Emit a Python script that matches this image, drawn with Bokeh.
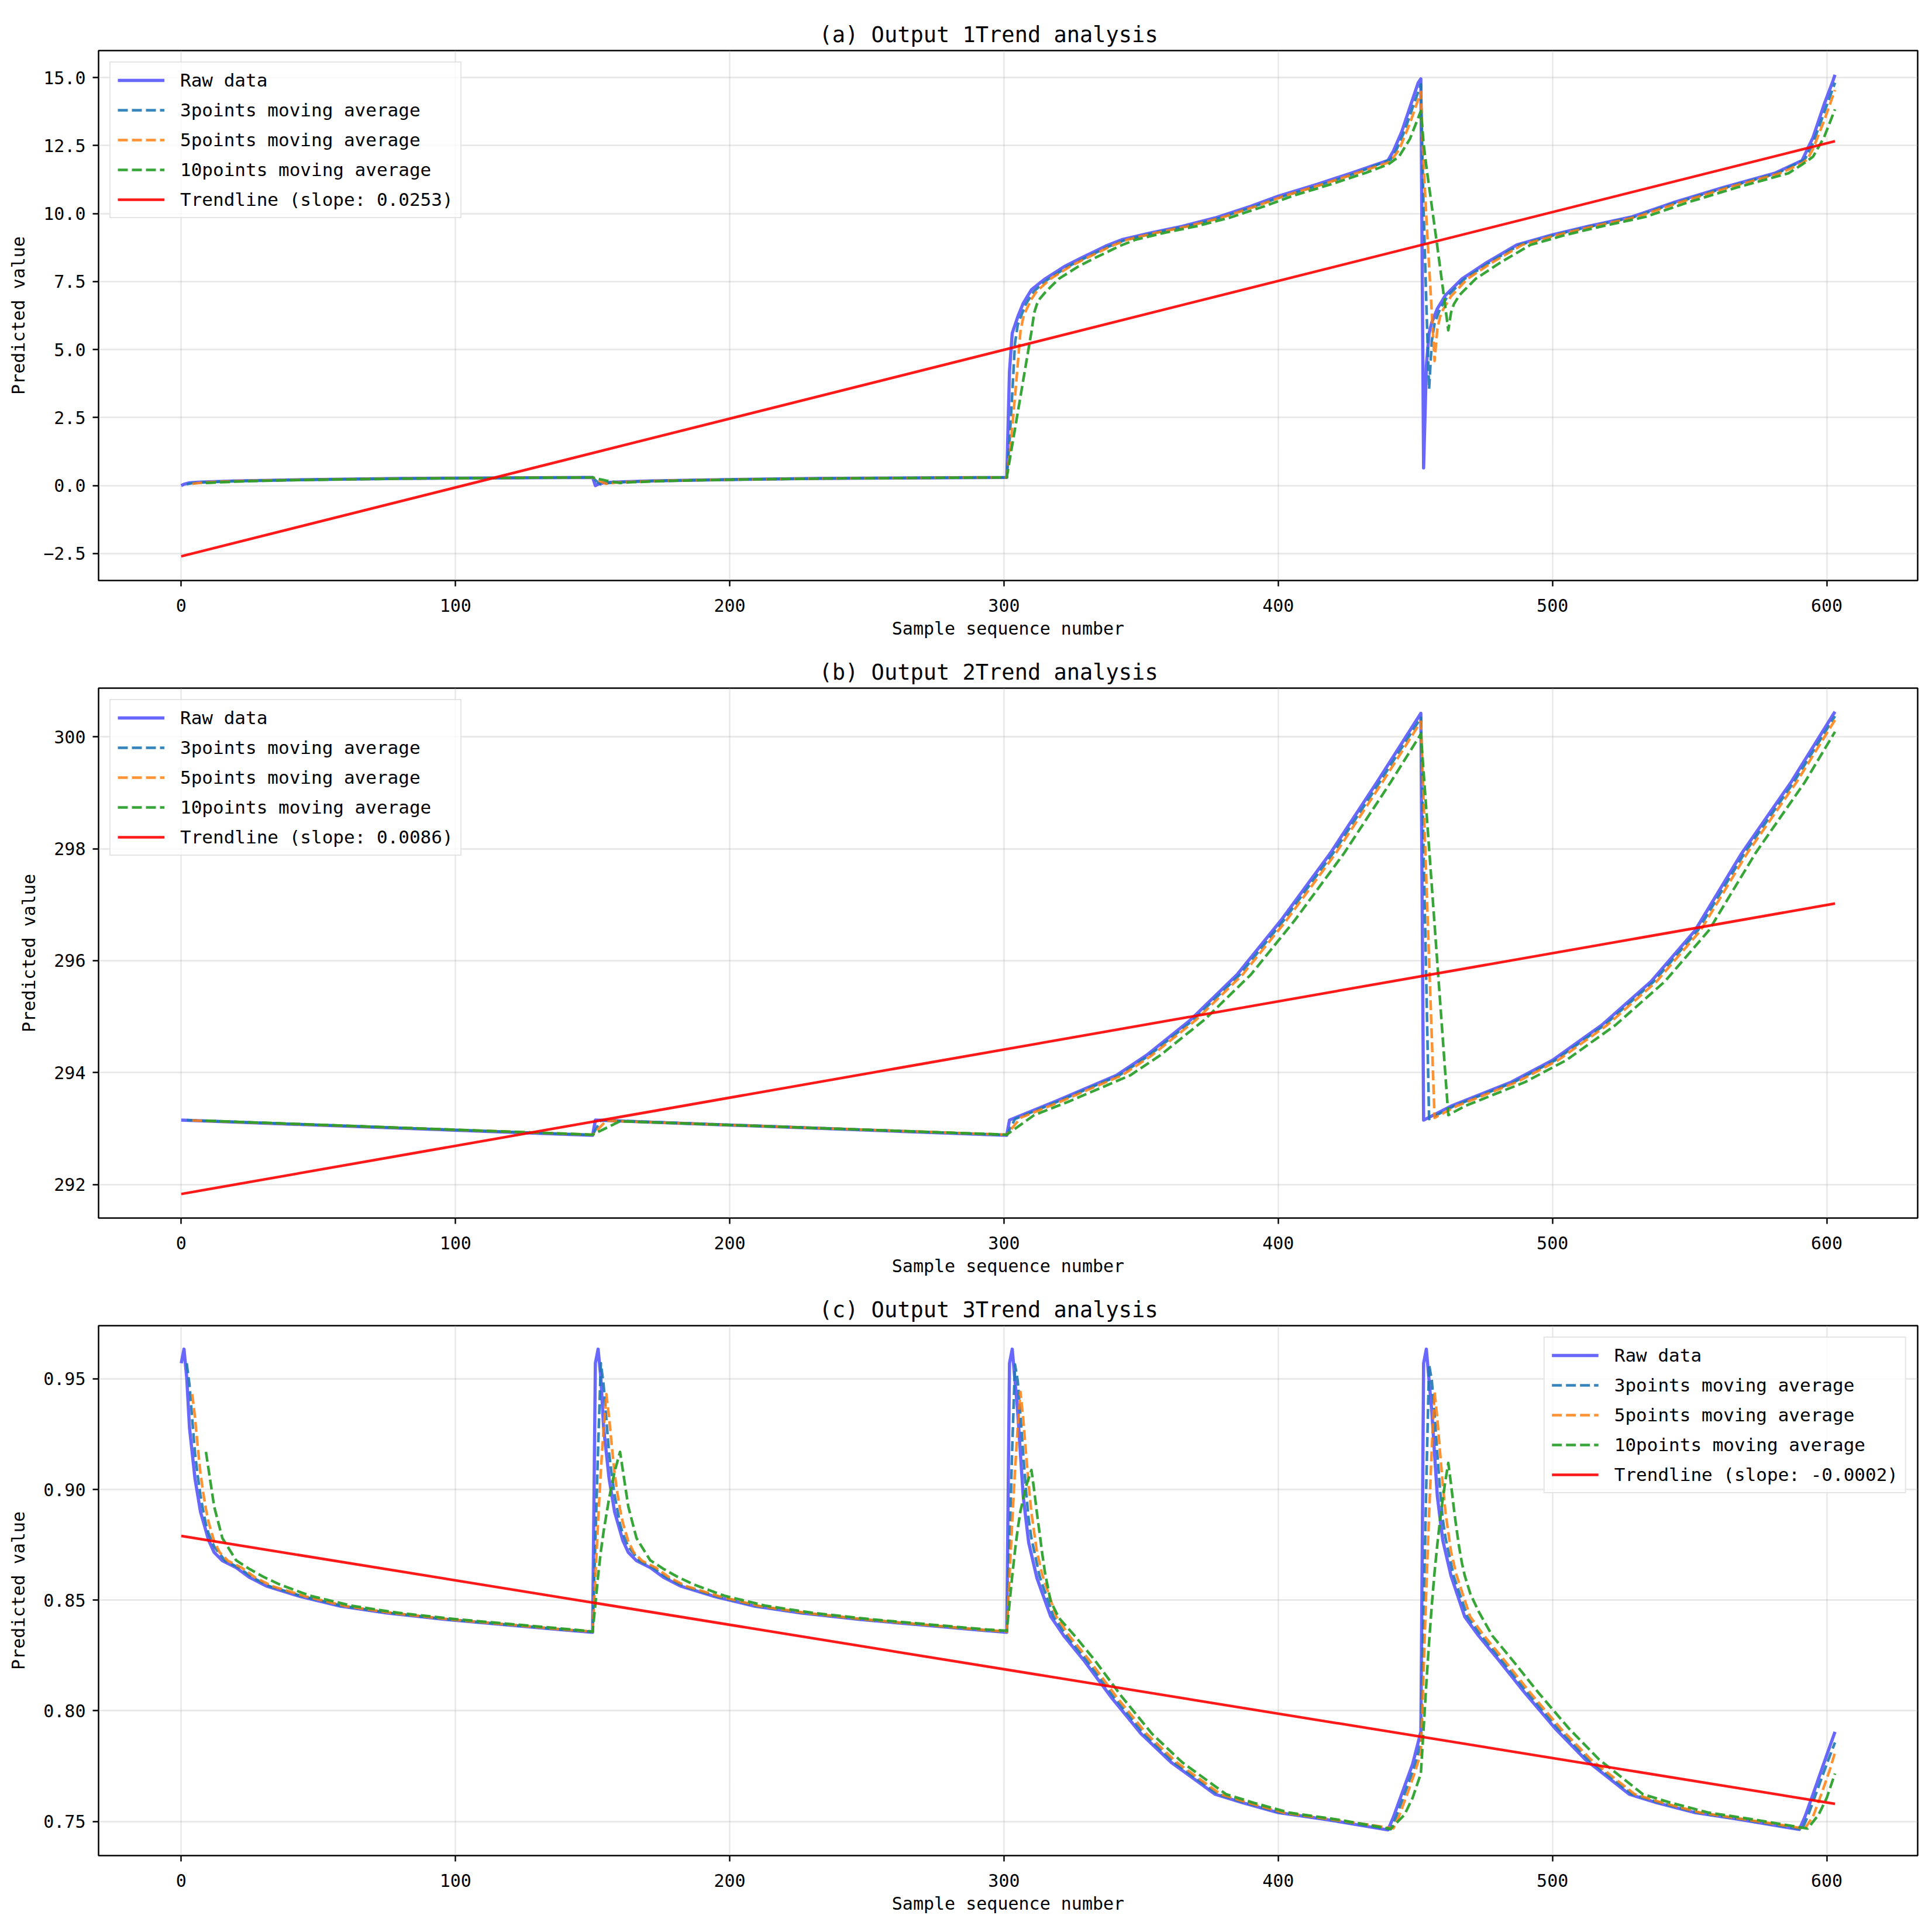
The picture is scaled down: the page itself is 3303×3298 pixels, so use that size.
from bokeh.plotting import figure
from bokeh.models import Range1d, FixedTicker, PrintfTickFormatter, Title
from bokeh.layouts import column
from bokeh.embed import file_html
from bokeh.resources import INLINE

# ---------------- data ----------------
X_TICKS = [0, 100, 200, 300, 400, 500, 600]

# Panel (a)
RAW_A = [(0, 0.0), (1, 0.05), (3, 0.1), (6, 0.12), (10, 0.14), (20, 0.17), (35, 0.2), (55, 0.23), (80, 0.26),
         (110, 0.28), (150, 0.3), (151, 0.0), (152, 0.05), (154, 0.1), (157, 0.12), (161, 0.14), (171, 0.17),
         (186, 0.2), (206, 0.23), (231, 0.26), (261, 0.28), (301, 0.3), (302, 4.2), (303, 5.6), (304, 5.9),
         (305, 6.2), (307, 6.7), (310, 7.2), (315, 7.6), (322, 8.05), (328, 8.36), (337, 8.8), (343, 9.04),
         (353, 9.28), (365, 9.53), (377, 9.84), (390, 10.27), (400, 10.64), (414, 11.07), (427, 11.5),
         (440, 11.95), (442, 12.3), (445, 13.0), (448, 13.9), (451, 14.8), (452, 14.95), (453, 0.65), (454, 4.4),
         (455, 5.6), (456, 6.0), (458, 6.5), (461, 7.0), (467, 7.6), (476, 8.2), (487, 8.85), (500, 9.22),
         (513, 9.53), (529, 9.88), (544, 10.4), (562, 10.95), (581, 11.48), (591, 11.95), (595, 12.8),
         (599, 14.0), (602, 14.8), (603, 15.1)]
MA3_A = [(2, 0.05), (4, 0.09), (7, 0.115), (11, 0.135), (21, 0.17), (36, 0.2), (56, 0.23), (81, 0.26), (111, 0.28),
         (150, 0.3), (151, 0.2), (152, 0.117), (153, 0.042), (154, 0.075), (156, 0.1), (158, 0.115), (162, 0.135),
         (172, 0.17), (187, 0.2), (207, 0.23), (232, 0.26), (262, 0.28), (301, 0.3), (302, 1.6), (303, 3.37),
         (304, 5.23), (305, 5.9), (306, 6.18), (308, 6.68), (311, 7.15), (316, 7.58), (323, 8.03), (329, 8.34),
         (338, 8.78), (344, 9.02), (354, 9.27), (366, 9.52), (378, 9.82), (391, 10.25), (401, 10.61), (415, 11.04),
         (428, 11.47), (441, 11.99), (443, 12.32), (446, 13.02), (449, 13.9), (452, 14.75), (453, 10.13),
         (454, 6.67), (455, 3.55), (456, 5.33), (457, 5.95), (459, 6.5), (462, 7.0), (468, 7.6), (477, 8.2),
         (488, 8.85), (501, 9.22), (514, 9.53), (530, 9.88), (545, 10.4), (563, 10.95), (582, 11.48), (592, 11.99),
         (595, 12.59), (599, 13.7), (603, 14.81)]
MA5_A = [(4, 0.066), (8, 0.11), (12, 0.135), (22, 0.17), (37, 0.2), (57, 0.23), (82, 0.26), (112, 0.28), (150, 0.3),
         (151, 0.24), (152, 0.19), (153, 0.145), (154, 0.105), (155, 0.066), (156, 0.089), (159, 0.115),
         (163, 0.135), (173, 0.17), (188, 0.2), (208, 0.23), (233, 0.26), (263, 0.28), (301, 0.3), (302, 1.08),
         (303, 2.14), (304, 3.26), (305, 4.44), (306, 5.67), (307, 6.17), (308, 6.43), (310, 6.85), (312, 7.15),
         (317, 7.6), (324, 8.05), (330, 8.36), (339, 8.8), (345, 9.04), (355, 9.28), (367, 9.53), (379, 9.84),
         (392, 10.27), (402, 10.64), (416, 11.07), (429, 11.5), (440, 11.87), (442, 12.07), (444, 12.33),
         (448, 13.31), (452, 14.47), (453, 11.82), (454, 9.86), (455, 8.08), (456, 6.32), (457, 4.58), (458, 5.75),
         (459, 6.2), (460, 6.45), (463, 6.96), (469, 7.6), (478, 8.2), (489, 8.85), (502, 9.22), (515, 9.53),
         (531, 9.88), (546, 10.4), (564, 10.95), (583, 11.48), (591, 11.85), (593, 12.0), (595, 12.38),
         (599, 13.4), (603, 14.54)]
MA10_A = [(9, 0.096), (14, 0.12), (25, 0.165), (40, 0.2), (60, 0.23), (85, 0.26), (115, 0.28), (150, 0.3),
          (151, 0.27), (155, 0.183), (160, 0.096), (161, 0.11), (165, 0.125), (175, 0.165), (190, 0.2), (210, 0.23),
          (235, 0.26), (265, 0.28), (301, 0.3), (310, 5.65), (311, 6.35), (312, 6.67), (313, 6.86), (315, 7.1),
          (320, 7.6), (327, 8.05), (333, 8.36), (342, 8.8), (348, 9.04), (358, 9.28), (370, 9.53), (382, 9.84),
          (395, 10.27), (405, 10.64), (419, 11.07), (432, 11.5), (440, 11.8), (444, 12.09), (448, 12.74),
          (452, 13.77), (453, 12.57), (454, 11.73), (456, 10.26), (458, 8.79), (460, 7.27), (462, 5.71),
          (463, 6.36), (464, 6.66), (466, 6.99), (468, 7.2), (472, 7.6), (481, 8.2), (492, 8.85), (505, 9.22),
          (518, 9.53), (534, 9.88), (549, 10.4), (567, 10.95), (586, 11.48), (591, 11.8), (595, 12.09),
          (599, 12.8), (603, 13.83)]
TREND_A = [(0, -2.6), (603, 12.66)]
SLOPE_A = "0.0253"
YTICKS_A = [-2.5, 0.0, 2.5, 5.0, 7.5, 10.0, 12.5, 15.0]

# Panel (b)
RAW_B = [(0, 293.15), (150, 292.88), (151, 293.15), (301, 292.88), (302, 293.15), (319, 293.49), (341, 293.95),
         (352, 294.31), (368, 294.94), (385, 295.75), (401, 296.72), (419, 297.92), (436, 299.19), (452, 300.42),
         (453, 293.15), (463, 293.4), (485, 293.83), (500, 294.22), (518, 294.85), (536, 295.63), (552, 296.54),
         (569, 297.92), (587, 299.19), (603, 300.45)]
MA3_B = [(2, 293.15), (150, 292.885), (153, 293.15), (301, 292.885), (304, 293.17), (320, 293.49), (342, 293.95),
         (353, 294.31), (369, 294.94), (386, 295.75), (402, 296.72), (420, 297.92), (437, 299.19), (452, 300.34),
         (455, 293.17), (464, 293.4), (486, 293.83), (501, 294.22), (519, 294.85), (537, 295.63), (553, 296.54),
         (570, 297.92), (588, 299.19), (603, 300.37)]
MA5_B = [(4, 293.145), (150, 292.89), (155, 293.14), (301, 292.89), (306, 293.19), (321, 293.49), (343, 293.95),
         (354, 294.31), (370, 294.94), (387, 295.75), (403, 296.72), (421, 297.92), (438, 299.19), (452, 300.27),
         (457, 293.19), (465, 293.4), (487, 293.83), (502, 294.22), (520, 294.85), (538, 295.63), (554, 296.54),
         (571, 297.92), (589, 299.19), (603, 300.3)]
MA10_B = [(9, 293.14), (150, 292.89), (160, 293.13), (301, 292.89), (311, 293.24), (324, 293.49), (346, 293.95),
          (357, 294.31), (373, 294.94), (390, 295.75), (406, 296.72), (424, 297.92), (441, 299.19), (452, 300.05),
          (462, 293.24), (468, 293.4), (490, 293.83), (505, 294.22), (523, 294.85), (541, 295.63), (557, 296.54),
          (574, 297.92), (592, 299.19), (603, 300.09)]
TREND_B = [(0, 291.83), (603, 297.02)]
SLOPE_B = "0.0086"
YTICKS_B = [292, 294, 296, 298, 300]

# Panel (c)
RAW_C = [(0, 0.957), (1, 0.9634), (2, 0.9505), (3, 0.928), (5, 0.905), (7, 0.89), (10, 0.877), (12, 0.8716),
         (15, 0.8678), (20, 0.8647), (25, 0.8602), (31, 0.8564), (43, 0.8518), (58, 0.8473), (75, 0.8442),
         (97, 0.8412), (118, 0.8389), (139, 0.8366), (150, 0.8355),
         (151, 0.957), (152, 0.9634), (153, 0.9505), (154, 0.928), (156, 0.905), (158, 0.89), (161, 0.877),
         (163, 0.8716), (166, 0.8678), (171, 0.8647), (176, 0.8602), (182, 0.8564), (194, 0.8518), (209, 0.8473),
         (226, 0.8442), (248, 0.8412), (269, 0.8389), (290, 0.8366), (301, 0.8355),
         (302, 0.957), (303, 0.9634), (305, 0.935), (307, 0.897), (309, 0.876), (312, 0.86), (317, 0.8427),
         (322, 0.8336), (329, 0.823), (339, 0.8063), (350, 0.7896), (361, 0.7767), (377, 0.7623), (387, 0.7585),
         (400, 0.754), (417, 0.751), (440, 0.7462), (442, 0.752), (445, 0.7623), (449, 0.776), (452, 0.7905),
         (453, 0.957), (454, 0.9634), (456, 0.935), (458, 0.897), (460, 0.877), (463, 0.861), (468, 0.8425),
         (473, 0.834), (480, 0.8235), (490, 0.808), (501, 0.792), (512, 0.778), (528, 0.7623), (538, 0.7585),
         (552, 0.754), (568, 0.751), (590, 0.7464), (592, 0.752), (595, 0.7623), (599, 0.7765), (603, 0.7905)]
MA3_C = [(2, 0.957), (3, 0.9473), (4, 0.9317), (5, 0.9165), (6, 0.9063), (7, 0.8975), (8, 0.8903), (9, 0.8844),
         (10, 0.88), (12, 0.8742), (16, 0.8678), (21, 0.8647), (26, 0.8602), (32, 0.8564), (44, 0.8518),
         (59, 0.8473), (76, 0.8442), (98, 0.8412), (119, 0.8389), (140, 0.8366), (150, 0.8357),
         (151, 0.8763), (152, 0.9188), (153, 0.957), (154, 0.9473), (155, 0.9317), (156, 0.9165), (157, 0.9063),
         (158, 0.8975), (160, 0.8844), (161, 0.88), (163, 0.8742), (167, 0.8678), (172, 0.8647), (177, 0.8602),
         (183, 0.8564), (195, 0.8518), (210, 0.8473), (227, 0.8442), (249, 0.8412), (270, 0.8389), (291, 0.8366),
         (301, 0.8357),
         (302, 0.8763), (303, 0.9188), (304, 0.9565), (305, 0.9491), (306, 0.9333), (307, 0.916), (308, 0.8998),
         (309, 0.8865), (310, 0.878), (313, 0.8607), (318, 0.8427), (323, 0.8336), (330, 0.823), (340, 0.8063),
         (351, 0.7896), (362, 0.7767), (378, 0.7623), (388, 0.7585), (401, 0.754), (418, 0.751), (441, 0.7465),
         (443, 0.7521), (446, 0.7623), (450, 0.776), (452, 0.7857),
         (453, 0.8444), (454, 0.9036), (455, 0.9565), (456, 0.9491), (457, 0.9333), (458, 0.916), (459, 0.8998),
         (460, 0.8865), (461, 0.878), (464, 0.8607), (469, 0.8425), (474, 0.834), (481, 0.8235), (491, 0.808),
         (502, 0.792), (513, 0.778), (529, 0.7623), (539, 0.7585), (553, 0.754), (569, 0.751), (591, 0.7465),
         (593, 0.7521), (596, 0.7623), (600, 0.776), (603, 0.7857)]
MA5_C = [(4, 0.9431), (5, 0.9327), (6, 0.9195), (7, 0.9074), (8, 0.8986), (9, 0.8911), (10, 0.8851), (12, 0.8766),
         (14, 0.8716), (17, 0.8678), (22, 0.8647), (27, 0.8602), (33, 0.8564), (45, 0.8518), (60, 0.8473),
         (77, 0.8442), (99, 0.8412), (120, 0.8389), (141, 0.8366), (150, 0.8358),
         (151, 0.8602), (152, 0.8857), (153, 0.9086), (154, 0.927), (155, 0.9431), (156, 0.9327), (157, 0.9195),
         (158, 0.9074), (159, 0.8986), (160, 0.8911), (161, 0.8851), (163, 0.8766), (165, 0.8716), (168, 0.8678),
         (173, 0.8647), (178, 0.8602), (184, 0.8564), (196, 0.8518), (211, 0.8473), (228, 0.8442), (250, 0.8412),
         (271, 0.8389), (292, 0.8366), (301, 0.8358),
         (302, 0.8602), (303, 0.8857), (304, 0.9083), (305, 0.9281), (306, 0.9441), (307, 0.9321), (308, 0.9167),
         (309, 0.9021), (310, 0.8894), (312, 0.8719), (314, 0.8613), (319, 0.8427), (324, 0.8336), (331, 0.823),
         (341, 0.8063), (352, 0.7896), (363, 0.7767), (379, 0.7623), (389, 0.7585), (402, 0.754), (419, 0.751),
         (442, 0.7469), (444, 0.7523), (447, 0.7623), (450, 0.7729), (452, 0.7811),
         (453, 0.818), (454, 0.8555), (455, 0.8891), (456, 0.919), (457, 0.9441), (458, 0.9321), (459, 0.9167),
         (460, 0.9021), (461, 0.8894), (463, 0.8719), (465, 0.8613), (470, 0.8425), (475, 0.834), (482, 0.8235),
         (492, 0.808), (503, 0.792), (514, 0.778), (530, 0.7623), (540, 0.7585), (554, 0.754), (570, 0.751),
         (592, 0.7468), (595, 0.7523), (598, 0.7623), (601, 0.7729), (603, 0.7811)]
MA10_C = [(9, 0.917), (12, 0.8923), (15, 0.878), (20, 0.868), (25, 0.864), (30, 0.8605), (36, 0.857), (47, 0.852),
          (62, 0.8475), (79, 0.8443), (101, 0.8413), (122, 0.839), (143, 0.8367), (150, 0.8358),
          (151, 0.848), (152, 0.861), (153, 0.872), (154, 0.881), (156, 0.896), (158, 0.908), (160, 0.917),
          (163, 0.8923), (166, 0.878), (171, 0.868), (176, 0.864), (181, 0.8605), (187, 0.857), (198, 0.852),
          (213, 0.8475), (230, 0.8443), (252, 0.8413), (273, 0.839), (294, 0.8367), (301, 0.8362),
          (302, 0.8483), (303, 0.861), (304, 0.8723), (305, 0.8822), (306, 0.8902), (308, 0.9013), (310, 0.9088),
          (311, 0.8997), (312, 0.8894), (313, 0.8801), (314, 0.8705), (315, 0.862), (317, 0.8496), (320, 0.842),
          (326, 0.8336), (333, 0.823), (343, 0.8063), (354, 0.7896), (365, 0.7767), (381, 0.7623), (391, 0.7585),
          (404, 0.754), (421, 0.751), (441, 0.7467), (446, 0.753), (449, 0.7607), (452, 0.7717),
          (453, 0.7919), (454, 0.8124), (455, 0.8311), (456, 0.848), (457, 0.8627), (458, 0.8751), (459, 0.8862),
          (460, 0.8958), (461, 0.9044), (462, 0.912), (463, 0.9024), (464, 0.8918), (465, 0.8822), (466, 0.8736),
          (467, 0.8666), (468, 0.8611), (470, 0.853), (473, 0.845), (478, 0.834), (485, 0.8235), (495, 0.808),
          (506, 0.792), (517, 0.778), (533, 0.7623), (543, 0.7585), (557, 0.754), (573, 0.751), (593, 0.7468),
          (597, 0.753), (600, 0.7607), (603, 0.7717)]
TREND_C = [(0, 0.879), (603, 0.758)]
SLOPE_C = "-0.0002"
YTICKS_C = [0.75, 0.80, 0.85, 0.90, 0.95]

# ---------------- styling ----------------
MONO = "DejaVu Sans Mono"
RAW_COLOR = "#4d4dff"
MA3_COLOR = "#1f77b4"
MA5_COLOR = "#ff7f0e"
MA10_COLOR = "#2ca02c"
TREND_COLOR = "#ff0000"
FIG_W = 3288
FRAME_H = 906
BORDER_BOTTOM = 106


def xs(pairs):
    return [p[0] for p in pairs]


def ys(pairs):
    return [p[1] for p in pairs]


def make_panel(title, raw, ma3, ma5, ma10, trend, slope, yticks, ylim, fmt, legend_loc,
               top_border=78, overrides=None):
    p = figure(width=FIG_W, height=top_border + FRAME_H + BORDER_BOTTOM, output_backend="svg",
               toolbar_location=None,
               x_range=Range1d(-30.15, 633.15), y_range=Range1d(*ylim),
               min_border_left=168, min_border_right=10, min_border_top=top_border,
               min_border_bottom=BORDER_BOTTOM)
    p.title = Title(text=title, align="left", offset=1232, text_font=MONO, text_font_size="37px",
                    text_font_style="normal", text_color="black", standoff=12)
    p.background_fill_color = "white"
    p.border_fill_color = "white"
    p.outline_line_color = "black"
    p.outline_line_width = 2.5

    p.line(xs(raw), ys(raw), color=RAW_COLOR, line_width=5.5, line_alpha=0.85, line_join="round",
           legend_label="Raw data")
    p.line(xs(ma3), ys(ma3), color=MA3_COLOR, line_width=4.5, line_alpha=0.9, line_dash="17 7",
           line_join="round", legend_label="3points moving average")
    p.line(xs(ma5), ys(ma5), color=MA5_COLOR, line_width=4.5, line_alpha=0.85, line_dash="17 7",
           line_join="round", legend_label="5points moving average")
    p.line(xs(ma10), ys(ma10), color=MA10_COLOR, line_width=4.5, line_alpha=0.95, line_dash="17 7",
           line_join="round", legend_label="10points moving average")
    p.line(xs(trend), ys(trend), color=TREND_COLOR, line_width=4.5, line_alpha=0.9,
           legend_label="Trendline (slope: %s)" % slope)

    for ax in (p.xaxis, p.yaxis):
        ax.axis_line_color = None
        ax.major_tick_line_color = "black"
        ax.major_tick_line_width = 2.4
        ax.major_tick_out = 10
        ax.major_tick_in = 0
        ax.minor_tick_line_color = None
        ax.major_label_text_font = MONO
        ax.major_label_text_font_size = "30px"
        ax.major_label_text_color = "black"
        ax.axis_label_text_font = MONO
        ax.axis_label_text_font_size = "30px"
        ax.axis_label_text_font_style = "normal"
        ax.axis_label_text_color = "black"
    p.xaxis.major_label_standoff = 21
    p.yaxis.major_label_standoff = 12
    p.xaxis.axis_label = "Sample sequence number"
    p.yaxis.axis_label = "Predicted value"
    p.xaxis.axis_label_standoff = 8
    p.yaxis.axis_label_standoff = 22
    p.xaxis.ticker = FixedTicker(ticks=X_TICKS)
    p.yaxis.ticker = FixedTicker(ticks=yticks)
    p.yaxis.formatter = PrintfTickFormatter(format=fmt)
    if overrides:
        p.yaxis.major_label_overrides = overrides

    p.xgrid.ticker = FixedTicker(ticks=X_TICKS)
    p.ygrid.ticker = FixedTicker(ticks=yticks)
    for g in (p.xgrid, p.ygrid):
        g.grid_line_color = "#b0b0b0"
        g.grid_line_alpha = 0.3
        g.grid_line_width = 2.4

    lg = p.legend[0]
    lg.location = legend_loc
    lg.margin = 19
    lg.padding = 12
    lg.spacing = 15
    lg.label_standoff = 27
    lg.glyph_width = 80
    lg.glyph_height = 30
    lg.label_height = 30
    lg.label_text_font = MONO
    lg.label_text_font_size = "31px"
    lg.label_text_color = "black"
    lg.border_line_color = "#cccccc"
    lg.border_line_width = 2
    lg.background_fill_color = "white"
    lg.background_fill_alpha = 0.8
    return p


pa = make_panel("(a) Output 1Trend analysis", RAW_A, MA3_A, MA5_A, MA10_A, TREND_A, SLOPE_A,
                YTICKS_A, (-3.49, 15.99), "%.1f", "top_left", top_border=86,
                overrides={-2.5: "\u22122.5"})
pb = make_panel("(b) Output 2Trend analysis", RAW_B, MA3_B, MA5_B, MA10_B, TREND_B, SLOPE_B,
                YTICKS_B, (291.40, 300.87), "%d", "top_left")
pc = make_panel("(c) Output 3Trend analysis", RAW_C, MA3_C, MA5_C, MA10_C, TREND_C, SLOPE_C,
                YTICKS_C, (0.7346, 0.9740), "%.2f", "top_right")

p = column(pa, pb, pc)
open("out.html", "w").write(file_html(p, INLINE))
